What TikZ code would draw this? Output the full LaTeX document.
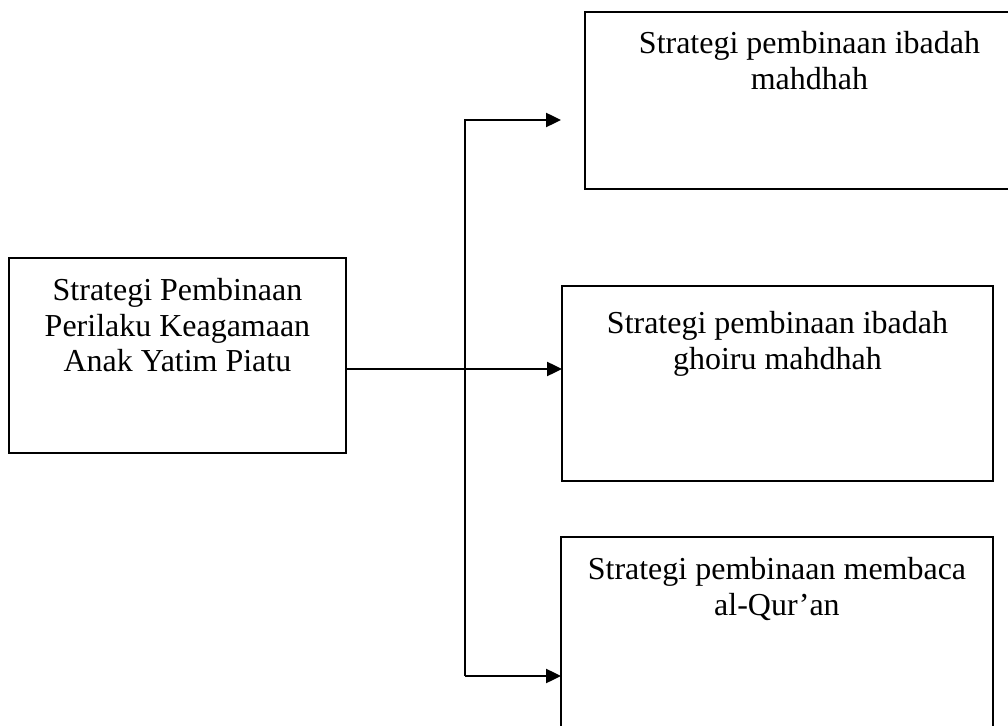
\documentclass[tikz,border=0pt]{standalone}
\usepackage{fontspec}
\setmainfont{Liberation Serif}
\usepackage{tikz}
\usetikzlibrary{arrows.meta,positioning}

\begin{document}
\begin{tikzpicture}[
    x=0.02cm, y=-0.02cm,
    box/.style={
        draw,
        rectangle,
        anchor=north west,
        inner sep=0pt,
        outer sep=0pt,
        line width=0.8pt
    },
    teks/.style={
        font=\fontsize{18.2}{20.2}\selectfont,
        align=center,
        inner sep=0pt
    },
    arr/.style={-{Triangle[length=0.3cm, width=0.28cm]}, line width=1.4pt}
]
    \useasboundingbox (0,0) rectangle (1008,726);
    %% Kotak induk
    \node[box, minimum width=6.74cm, minimum height=3.9cm] (induk) at (9,258) {};
    \node[teks, below=0.4cm of induk.north] (induk-t) {Strategi Pembinaan\\Perilaku Keagamaan\\Anak Yatim Piatu};
    %% Tiga cabang strategi
    \node[box, minimum width=8.5cm, minimum height=3.54cm] (mahdhah) at (585,12) {};
    \node[teks, below=0.38cm of mahdhah.north, xshift=0.24cm] (mahdhah-t) {Strategi pembinaan ibadah\\mahdhah};
    \node[box, minimum width=8.62cm, minimum height=3.9cm] (ghoiru) at (562,286) {};
    \node[teks, below=0.5cm of ghoiru.north] (ghoiru-t) {Strategi pembinaan ibadah\\ghoiru mahdhah};
    \node[box, minimum width=8.64cm, minimum height=4.1cm] (quran) at (561,537) {};
    \node[teks, below=0.4cm of quran.north] (quran-t) {Strategi pembinaan membaca\\al-Qur’an};

    %% Titik cabang
    \coordinate (atas) at (465,120);
    \coordinate (tengah) at (465,369);
    \coordinate (bawah) at (465,676);

    %% Panah
    \draw[arr] (induk.east |- tengah) -- (tengah -| ghoiru.west);
    \draw[arr] (bawah) -- (atas) -- (atas -| quran.west);
    \draw[arr] (bawah) -- (bawah -| quran.west);
\end{tikzpicture}
\end{document}
